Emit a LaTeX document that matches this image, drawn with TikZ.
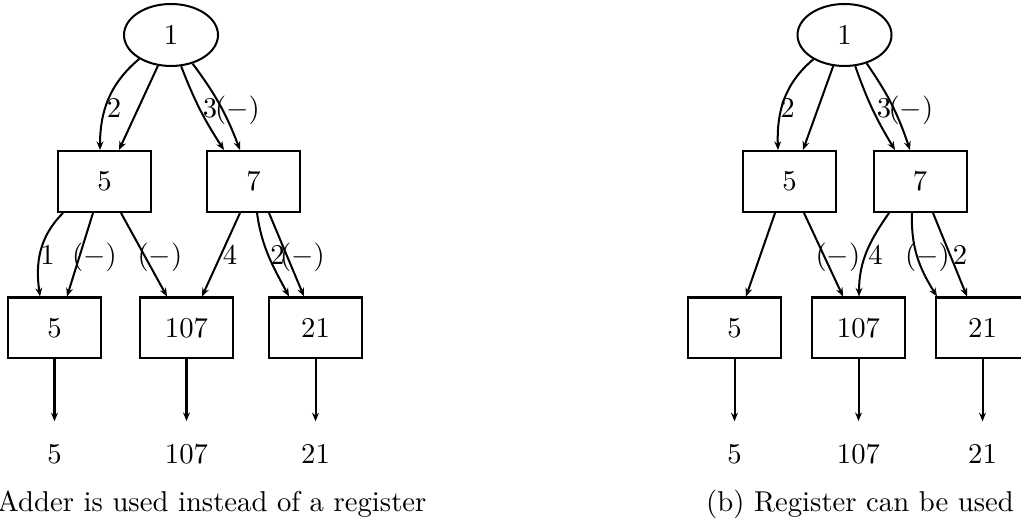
\documentclass[tikz,border=0pt]{standalone}
\usetikzlibrary{shapes.geometric,arrows.meta,calc}
\begin{document}
\begin{tikzpicture}[x=0.34843pt, y=0.34843pt,
  srcnode/.style={draw, ellipse, line width=0.7pt, minimum width=32.75pt, minimum height=21.6pt, inner sep=0pt},
  unitbox/.style={draw, line width=0.7pt, minimum width=32.4pt, minimum height=21.25pt, inner sep=0pt},
  conn/.style={line width=0.7pt, -{Stealth[length=3pt,width=2.4pt]}},
  outconn/.style={conn, shorten >=8pt},
  lbl/.style={anchor=base, inner sep=0pt},
  outval/.style={anchor=base, inner sep=0pt},
  caption/.style={inner sep=0pt}]
\useasboundingbox (0,0) rectangle (1021,-525);
\clip (0,0) rectangle (1021,-525);

% ---------- (a) adder variant ----------
\node[srcnode] (e1) at (171,-35) {1};
\node[unitbox] (b5) at (104.5,-181.5) {5};
\node[unitbox] (b7) at (253.5,-181.5) {7};
\node[unitbox] (c5) at (54.5,-328) {5};
\node[unitbox] (c107) at (186.5,-328) {107};
\node[unitbox] (c21) at (315.5,-328) {21};
\node[outval] (o5) at (54.5,-464) {5};
\node[outval] (o107) at (186.5,-464) {107};
\node[outval] (o21) at (315.5,-464) {21};

\draw[conn] (e1.-143) to[out=-140,in=90] ($(b5.north)+(-4.5,0)$);
\draw[conn] (e1.-113) -- ($(b5.north)+(14.5,0)$);
\draw[conn] (e1.-72) to[bend right=6] ($(b7.north)+(-29.5,0)$);
\draw[conn] (e1.-53) to[bend left=8] ($(b7.north)+(-13.5,0)$);
\draw[conn] ($(b5.south)+(-41.5,0)$) to[out=-135,in=98] ($(c5.north)+(-14.5,0)$);
\draw[conn] ($(b5.south)+(-11.5,0)$) -- ($(c5.north)+(12.5,0)$);
\draw[conn] ($(b5.south)+(16.5,0)$) -- ($(c107.north)+(-19.5,0)$);
\draw[conn] ($(b7.south)+(-13.5,0)$) -- ($(c107.north)+(15.5,0)$);
\draw[conn] ($(b7.south)+(3.5,0)$) to[out=-82,in=118] ($(c21.north)+(-26.5,0)$);
\draw[conn] ($(b7.south)+(15.5,0)$) -- ($(c21.north)+(-11.5,0)$);
\draw[outconn] (c5) -- (o5);
\draw[outconn] (c107) -- (o107);
\draw[outconn] (c21) -- (o21);

\node[lbl] (la1) at (114,-118) {2};
\node[lbl] (la2) at (210,-118) {3};
\node[lbl] (la3) at (237.5,-118) {$(-)$};
\node[lbl] (la4) at (47.5,-265) {1};
\node[lbl] (la5) at (94.5,-265) {$(-)$};
\node[lbl] (la6) at (160,-265) {$(-)$};
\node[lbl] (la7) at (230,-265) {4};
\node[lbl] (la8) at (277.5,-265) {2};
\node[lbl] (la9) at (302.5,-265) {$(-)$};

\node[caption, anchor=base east] (capa) at (427,-512) {Adder is used instead of a register};

% ---------- (b) register variant ----------
\node[srcnode] (e1r) at (844.5,-35) {1};
\node[unitbox] (b5r) at (789.5,-181.5) {5};
\node[unitbox] (b7r) at (920,-181.5) {7};
\node[unitbox] (c5r) at (734.5,-328) {5};
\node[unitbox] (c107r) at (858.5,-328) {107};
\node[unitbox] (c21r) at (982.5,-328) {21};
\node[outval] (o5r) at (734.5,-464) {5};
\node[outval] (o107r) at (858.5,-464) {107};
\node[outval] (o21r) at (982.5,-464) {21};

\draw[conn] (e1r.-142) to[out=-140,in=92] ($(b5r.north)+(-11.5,0)$);
\draw[conn] (e1r.-110) -- ($(b5r.north)+(13.5,0)$);
\draw[conn] (e1r.-71) to[bend right=6] ($(b7r.north)+(-25,0)$);
\draw[conn] (e1r.-52) to[bend left=8] ($(b7r.north)+(-10,0)$);
\draw[conn] ($(b5r.south)+(-14.5,0)$) -- ($(c5r.north)+(11.5,0)$);
\draw[conn] ($(b5r.south)+(14.5,0)$) -- ($(c107r.north)+(-15.5,0)$);
\draw[conn] ($(b7r.south)+(-31,0)$) to[out=-125,in=90] ($(c107r.north)+(0.5,0)$);
\draw[conn] ($(b7r.south)+(-8,0)$) to[out=-92,in=122] ($(c21r.north)+(-45.5,0)$);
\draw[conn] ($(b7r.south)+(13,0)$) -- ($(c21r.north)+(-15.5,0)$);
\draw[outconn] (c5r) -- (o5r);
\draw[outconn] (c107r) -- (o107r);
\draw[outconn] (c21r) -- (o21r);

\node[lbl] (lb1) at (787.5,-118) {2};
\node[lbl] (lb2) at (884,-118) {3};
\node[lbl] (lb3) at (911,-118) {$(-)$};
\node[lbl] (lb4) at (838,-265) {$(-)$};
\node[lbl] (lb5) at (875.5,-265) {4};
\node[lbl] (lb6) at (927.5,-265) {$(-)$};
\node[lbl] (lb7) at (960,-265) {2};

\node[caption, anchor=base] (capb) at (860,-512) {(b) Register can be used};
\end{tikzpicture}
\end{document}
